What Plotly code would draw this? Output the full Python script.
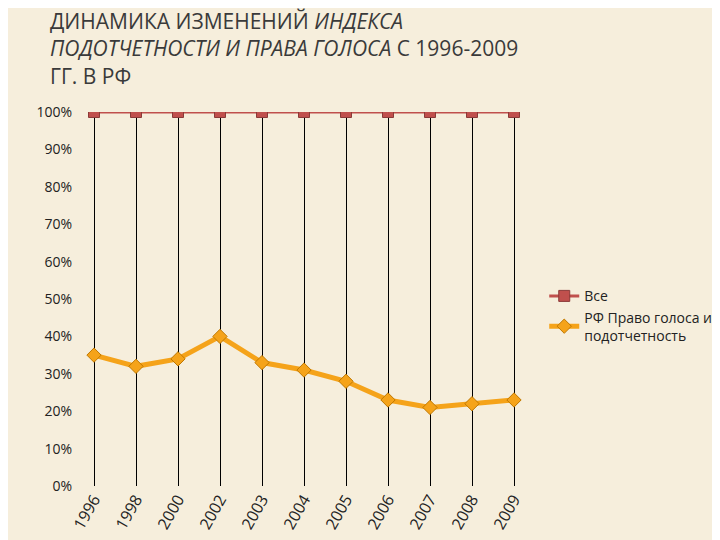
import plotly.graph_objects as go

years = ["1996","1998","2000","2002","2003","2004","2005","2006","2007","2008","2009"]
all_vals = [1.0]*11
rf_vals = [0.35,0.32,0.34,0.40,0.33,0.31,0.28,0.23,0.21,0.22,0.23]

fig = go.Figure()
fig.add_trace(go.Scatter(x=years, y=all_vals, name="Все", mode="lines+markers",
    line=dict(color="#C0504D", width=3), marker=dict(symbol="square", size=11, color="#C0504D", line=dict(color="#8B3A38", width=1))))
fig.add_trace(go.Scatter(x=years, y=rf_vals, name="РФ Право голоса и<br>подотчетность", mode="lines+markers",
    line=dict(color="#F5A31A", width=5), marker=dict(symbol="diamond", size=11, color="#F5A31A", line=dict(color="#C07800", width=1))))

fig.update_layout(
    width=720, height=540, paper_bgcolor="#F6EEDC", plot_bgcolor="rgba(0,0,0,0)",
    margin=dict(l=65, r=193, t=104, b=62, autoexpand=False),
    font=dict(family="Open Sans, DejaVu Sans", color="#333333"),
    legend=dict(x=1.02, y=0.55, yanchor="top", font=dict(size=14, color="#222"), bgcolor="rgba(0,0,0,0)", tracegroupgap=12),
    showlegend=True,
    annotations=[dict(text="ДИНАМИКА ИЗМЕНЕНИЙ <i>ИНДЕКСА<br>ПОДОТЧЕТНОСТИ И ПРАВА ГОЛОСА</i> С 1996-2009<br>ГГ. В РФ",
        xref="paper", yref="paper", x=-0.055, y=1.285, xanchor="left", yanchor="top", align="left",
        showarrow=False, font=dict(size=21, color="#3a3a3a"))],
)
fig.update_xaxes(showgrid=True, gridcolor="#000000", gridwidth=1, tickangle=-60, tickfont=dict(size=16, color="#222"),
                 showline=False, range=[-0.5, 10.5], automargin=False)
fig.update_yaxes(range=[0, 1], dtick=0.1, tickformat=".0%", showgrid=False, tickfont=dict(size=14, color="#222"),
                 showline=False, zeroline=False, automargin=False)
fig.write_html("out.html")
